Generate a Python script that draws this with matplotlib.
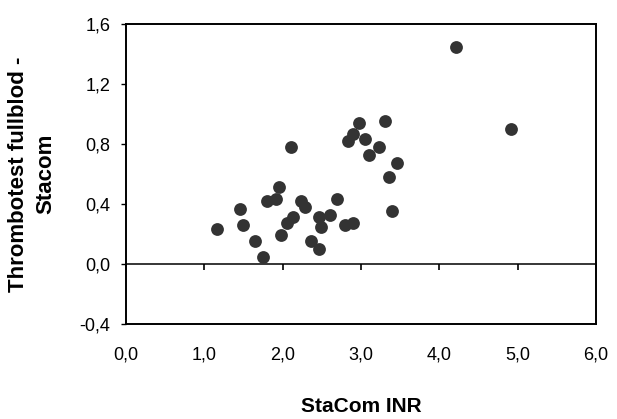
import numpy as np
import matplotlib
matplotlib.use("Agg")
import matplotlib.pyplot as plt
from matplotlib.ticker import FuncFormatter, MultipleLocator

plt.rcParams["font.family"] = ["Liberation Sans", "DejaVu Sans"]

# StaCom INR vs difference Thrombotest fullblod - Stacom
stacom_inr = [1.16, 1.46, 1.49, 1.65, 1.75, 1.80, 1.91, 1.95, 1.98, 2.05,
              2.13, 2.23, 2.28, 2.36, 2.46, 2.46, 2.49, 2.61, 2.69, 2.79,
              2.90, 2.10, 2.97, 3.30, 2.90, 2.84, 3.05, 3.23, 3.10, 3.46,
              3.36, 3.40, 4.21, 4.91]
diff = [0.233, 0.367, 0.26, 0.156, 0.044, 0.42, 0.431, 0.513, 0.191, 0.276,
        0.313, 0.42, 0.378, 0.156, 0.10, 0.316, 0.247, 0.327, 0.433, 0.258,
        0.276, 0.78, 0.94, 0.953, 0.865, 0.82, 0.833, 0.78, 0.727, 0.676,
        0.578, 0.353, 1.445, 0.90]

fig = plt.figure(figsize=(6.17, 4.19), dpi=100)
ax = fig.add_axes([0.2042, 0.2267, 0.7618, 0.716])

ax.scatter(stacom_inr, diff, s=85, color="#333333", zorder=3, linewidths=0)

ax.set_xlim(0, 6)
ax.set_ylim(-0.4, 1.6)
ax.xaxis.set_major_locator(MultipleLocator(1))
ax.yaxis.set_major_locator(MultipleLocator(0.4))
comma = FuncFormatter(lambda v, p: f"{v:.1f}".replace(".", ","))
ax.xaxis.set_major_formatter(comma)
ax.yaxis.set_major_formatter(comma)

for s in ax.spines.values():
    s.set_linewidth(1.4)
ax.tick_params(axis="x", length=0, pad=16, labelsize=13)
ax.tick_params(axis="y", direction="out", length=3.6, width=1, pad=7.5, labelsize=13)

# axis crossing at y = 0 with tick marks
zero = ax.secondary_xaxis(0.2)
zero.xaxis.set_major_locator(MultipleLocator(1))
zero.tick_params(direction="out", length=4.5, width=1.2, labelbottom=False)
zero.spines["bottom"].set_linewidth(1.1)

ax.set_xlabel("StaCom INR", fontsize=15, fontweight="bold", labelpad=24)
ax.set_ylabel("Thrombotest fullblod -\nStacom", fontsize=16, fontweight="bold",
              labelpad=17, linespacing=1.35)

fig.savefig("out.png", dpi=100)
